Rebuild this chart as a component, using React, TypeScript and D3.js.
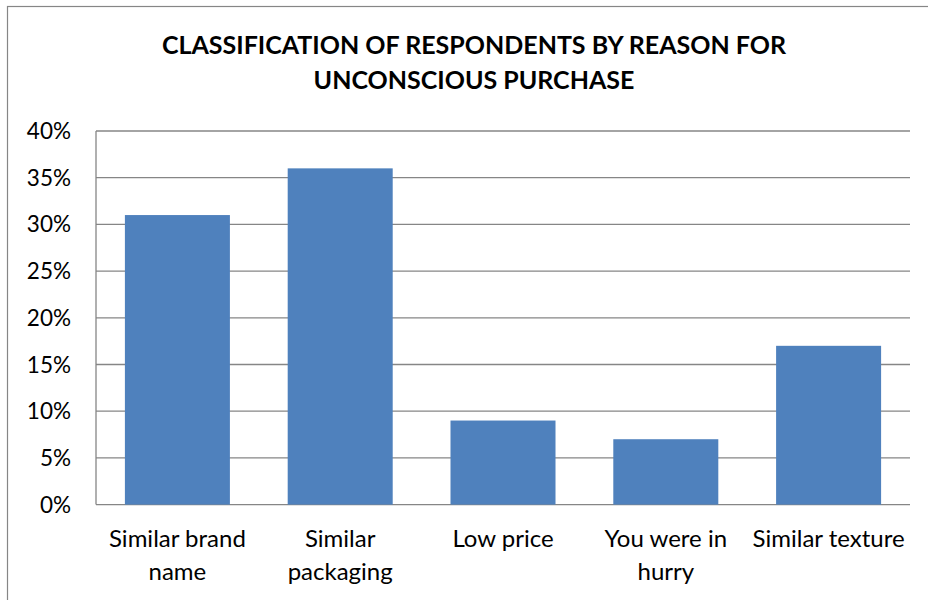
import React from "react";
import * as d3 from "d3";

const categories: string[][] = [
  ["Similar brand", "name"],
  ["Similar", "packaging"],
  ["Low price"],
  ["You were in", "hurry"],
  ["Similar texture"],
];
const values: number[] = [0.31, 0.36, 0.09, 0.07, 0.17];
const yTicks: number[] = [0, 0.05, 0.1, 0.15, 0.2, 0.25, 0.3, 0.35, 0.4];
const titleLines: string[] = [
  "CLASSIFICATION OF RESPONDENTS BY REASON FOR",
  "UNCONSCIOUS PURCHASE",
];

const W = 928;
const H = 600;
const left = 96;
const right = 910;
const top = 131;
const bottom = 504.6;
const font = "Lato, 'Open Sans', sans-serif";

export default function App() {
  const x = d3
    .scaleBand<number>()
    .domain(d3.range(values.length))
    .range([left, right])
    .paddingInner(0.355)
    .paddingOuter(0.1775);
  const y = d3.scaleLinear().domain([0, 0.4]).range([bottom, top]);
  const fmt = d3.format(".0%");

  return (
    <svg
      width={W}
      height={H}
      style={{ position: "absolute", left: 0, top: 0, display: "block" }}
    >
      <rect x={0} y={0} width={W} height={H} fill="#fff" />
      <rect
        x={7.5}
        y={6.5}
        width={W + 10}
        height={H + 10}
        fill="none"
        stroke="#868686"
        strokeWidth={1.2}
      />
      {titleLines.map((t, i) => (
        <text
          key={i}
          x={474}
          y={54 + i * 35}
          textAnchor="middle"
          fontFamily={font}
          fontWeight="bold"
          fontSize={25}
          fill="#000"
        >
          {t}
        </text>
      ))}
      {yTicks.map((t) => (
        <g key={t}>
          <line
            x1={left}
            x2={right}
            y1={y(t)}
            y2={y(t)}
            stroke="#868686"
            strokeWidth={1.3}
          />
          <text
            x={71}
            y={y(t) + 8}
            textAnchor="end"
            fontFamily={font}
            fontSize={22.5}
            fill="#000"
          >
            {fmt(t)}
          </text>
        </g>
      ))}
      <line
        x1={left}
        x2={left}
        y1={top}
        y2={bottom}
        stroke="#868686"
        strokeWidth={1.3}
      />
      {values.map((v, i) => (
        <rect
          key={i}
          x={x(i)}
          y={y(v)}
          width={x.bandwidth()}
          height={bottom - y(v)}
          fill="#4F81BD"
        />
      ))}
      {categories.map((lines, i) =>
        lines.map((l, j) => (
          <text
            key={i + "-" + j}
            x={(x(i) as number) + x.bandwidth() / 2}
            y={547 + j * 33}
            textAnchor="middle"
            fontFamily={font}
            fontSize={24}
            fill="#000"
          >
            {l}
          </text>
        ))
      )}
    </svg>
  );
}
